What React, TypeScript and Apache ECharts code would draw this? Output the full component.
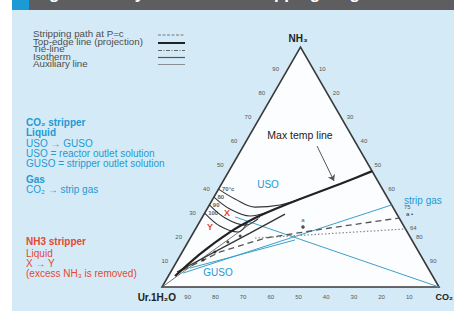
import React, { useEffect, useRef } from "react";
import * as echarts from "echarts";

// ---- data (ternary compositions as [NH3 %, CO2 %]) ----
const tickValues = [10, 20, 30, 40, 50, 60, 70, 80, 90];
const rightTickValues = [10, 20, 30, 40, 50, 60, 80, 90];
const triangleVertices = [[0, 0], [0, 100], [100, 0]];
const ridgeLine = [[4.6, 2.4], [13.75, 6.8], [22.9, 13.1], [28.75, 19.2], [32.5, 24.6], [36.7, 31.5], [42.9, 42.8], [48.3, 51.7]];
const isotherm70 = [[40.8, 0], [36.7, 8.0], [33.3, 16.9], [34.2, 25.5], [36.7, 31.5]];
const isotherm80 = [[37.5, 0], [32.5, 8.3], [29.6, 17.0], [31.25, 22.6]];
const isotherm90 = [[34.2, 0], [28.75, 8.4], [25.8, 17.1], [28.3, 20.5]];
const isotherm100 = [[30.8, 0], [25.4, 8.2], [22.9, 16.0], [27.3, 17.4]];
const isothermLabels = ["70°c", "80", "90", "100"];
const lowerBoundary = [[6.25, 2.3], [22.5, 20.5], [30.4, 29.2]];
const strippingPath = [[7.1, 4.0], [14.6, 13.6], [20.4, 27.0], [24.6, 48.3], [28.75, 71.2]];
const nh3Path = [[20.4, 23.4], [21.25, 35.6], [24.2, 75.8]];
const gusoToStripGas = [[5.8, 4.7], [34.2, 65.8]];
const usoToCo2 = [[29.2, 11.8], [0, 100]];
const gusoTie = [[7.9, 6.2], [19.6, 38.2]];
const auxFromVertex = [[0, 0], [29.2, 20.8]];
const strippingMarks = [[11.25, 9.2], [14.6, 11.8], [18.75, 14.4], [21.25, 17.6]];
const pointA = [[25, 38.4]];
const maxTempArrow = [[58.75, 26.6], [44.2, 40.0]];

const FONT = "'Liberation Sans', Arial, sans-serif";
const BLUE = "#2399d2";
const RED = "#e5482f";
const S3 = Math.sqrt(3) / 2;
const toXY = (p: number[]) => [p[1] + p[0] / 2, p[0] * S3];

function lineSeries(data: number[][], lineStyle: any, extra: any = {}) {
  return {
    type: "line",
    data: data.map(toXY),
    symbol: "none",
    silent: true,
    lineStyle,
    z: 4,
    ...extra,
  };
}

function edgeLabels(kind: string, values: number[]) {
  return {
    type: "custom",
    coordinateSystem: "cartesian2d",
    silent: true,
    z: 6,
    data: values.map((v) => [v, 0]),
    renderItem: (params: any, api: any) => {
      const v = api.value(0);
      let comp: number[];
      let dx = 0;
      let dy = 0;
      if (kind === "left") { comp = [v, 0]; dx = -11; dy = -2; }
      else if (kind === "right") { comp = [100 - v, v]; dx = 8; dy = -2; }
      else { comp = [0, 100 - v]; dx = -2; dy = 10; }
      const p = api.coord(toXY(comp));
      return {
        type: "text",
        x: p[0] + dx,
        y: p[1] + dy,
        style: { text: String(v), fontSize: 6, fill: "#555", align: "center", verticalAlign: "middle", fontFamily: FONT },
      };
    },
  };
}

function txt(text: string, x: number, y: number, o: any = {}, extra: any = {}) {
  return {
    type: "text",
    x,
    y,
    silent: true,
    z: 20,
    ...extra,
    style: {
      text,
      fontSize: 10,
      fill: "#333",
      fontFamily: FONT,
      verticalAlign: "middle",
      align: "left",
      ...o,
    },
  };
}

function legText(text: string, y: number) {
  return txt(text, 33, y, { fontSize: 7.5, lineHeight: 7, fill: "#4d4d4d" }, { scaleX: 1.3, scaleY: 1.12 });
}

function legLine(y: number, style: any) {
  return { type: "line", silent: true, z: 20, shape: { x1: 158, y1: y, x2: 185, y2: y }, style };
}

const isotherms = [isotherm70, isotherm80, isotherm90, isotherm100];

const option: any = {
  animation: false,
  grid: { left: 162, top: 47, width: 277, height: 240 },
  xAxis: { type: "value", min: 0, max: 100, show: false },
  yAxis: { type: "value", min: 0, max: 86.643, show: false },
  graphic: [
    { type: "rect", silent: true, z: -10, shape: { x: 12, y: 10, width: 442, height: 301 }, style: { fill: "#d4ebf7" } },
    { type: "rect", silent: true, z: -9, shape: { x: 12, y: 0, width: 442, height: 10 }, style: { fill: "#5e5e60" } },
    { type: "rect", silent: true, z: -8, shape: { x: 12, y: 0, width: 17, height: 10 }, style: { fill: "#1b9ad6" } },
    txt("Fig. 1 Ternary CO₂ vs NH₃ stripping diagram", 34, -7, { fill: "#fff", fontSize: 17, fontWeight: "bold" }),
    // legend
    legText("Stripping path at P=c", 34.5),
    legText("Top-edge line (projection)", 42),
    legText("Tie-line", 49.5),
    legText("Isotherm", 57),
    legText("Auxiliary line", 64.5),
    legLine(35, { stroke: "#777", lineWidth: 1, lineDash: [3, 1.5] }),
    legLine(43, { stroke: "#222", lineWidth: 2 }),
    legLine(50.5, { stroke: "#666", lineWidth: 1, lineDash: [4, 1.5, 1, 1.5] }),
    legLine(57.5, { stroke: "#555", lineWidth: 1.2 }),
    legLine(64.5, { stroke: "#777", lineWidth: 0.8 }),
    // CO2 stripper
    txt("CO₂ stripper", 26, 122, { fill: BLUE, fontWeight: "bold" }),
    txt("Liquid", 26, 132, { fill: BLUE, fontWeight: "bold" }),
    txt("USO → GUSO", 26, 143, { fill: BLUE }),
    txt("USO = reactor outlet solution", 26, 153, { fill: BLUE }),
    txt("GUSO = stripper outlet solution", 26, 163, { fill: BLUE }),
    txt("Gas", 26, 179, { fill: BLUE, fontWeight: "bold" }),
    txt("CO₂ → strip gas", 26, 189, { fill: BLUE }),
    // NH3 stripper
    txt("NH3 stripper", 26, 241, { fill: RED, fontWeight: "bold" }),
    txt("Liquid", 26, 253, { fill: RED }),
    txt("X → Y", 26, 263, { fill: RED }),
    txt("(excess NH₃ is removed)", 26, 273, { fill: RED }),
    // chart annotations
    txt("NH₃", 298, 38, { align: "center", fontWeight: "bold", fill: "#222" }),
    txt("Ur.1H₂O", 176, 297, { align: "right", fontWeight: "bold", fill: "#222" }),
    txt("CO₂", 453, 297, { align: "right", fontWeight: "bold", fill: "#222", fontSize: 9 }),
    txt("Max temp line", 300, 135, { align: "center", fontSize: 10.5, fill: "#222" }),
    txt("USO", 268, 184, { align: "center", fill: BLUE }),
    txt("GUSO", 218, 272, { align: "center", fill: BLUE }),
    txt("strip gas", 404, 200, { fill: BLUE }),
    txt("X", 227, 213, { align: "center", fill: RED, fontSize: 9, fontWeight: "bold" }),
    txt("Y", 210, 227, { align: "center", fill: RED, fontSize: 9, fontWeight: "bold" }),
    txt("75", 404, 207, { fontSize: 6, fill: "#555" }),
    txt("a •", 406, 214, { fontSize: 6, fill: "#333" }),
    txt("64", 410, 228, { fontSize: 6, fill: "#555" }),
  ],
  series: [
    {
      type: "custom",
      coordinateSystem: "cartesian2d",
      silent: true,
      z: 1,
      data: [[0, 0]],
      renderItem: (params: any, api: any) => {
        const pts = triangleVertices.map((p) => api.coord(toXY(p)));
        return {
          type: "polygon",
          shape: { points: pts },
          style: { fill: "#fcfdfe", stroke: "#3a3a3a", lineWidth: 1.6 },
        };
      },
    },
    edgeLabels("left", tickValues),
    edgeLabels("right", rightTickValues),
    edgeLabels("bottom", tickValues),
    lineSeries(auxFromVertex, { color: "#555", width: 0.8 }),
    lineSeries(gusoToStripGas, { color: "#3c9fc9", width: 1 }),
    lineSeries(usoToCo2, { color: "#3c9fc9", width: 1 }),
    lineSeries(gusoTie, { color: "#3c9fc9", width: 1 }),
    lineSeries(nh3Path, { color: "#8a8a8a", width: 1.2, type: [1.5, 2] }),
    lineSeries(strippingPath, { color: "#555", width: 1.3, type: [6, 4] }),
    lineSeries(lowerBoundary, { color: "#333", width: 1.4 }),
    ...isotherms.map((d) => lineSeries(d, { color: "#333", width: 1.1 }, { smooth: 0.35 })),
    lineSeries(ridgeLine, { color: "#222", width: 2.2 }, { smooth: 0.2, z: 5 }),
    {
      type: "scatter",
      silent: true,
      z: 7,
      symbolSize: 5,
      data: isotherms.map((d, i) => ({ value: toXY(d[0]), name: isothermLabels[i] })),
      itemStyle: { color: "rgba(0,0,0,0)" },
      label: {
        show: true,
        formatter: (p: any) => p.name,
        position: "right",
        distance: 1,
        fontSize: 6,
        color: "#333",
        fontFamily: FONT,
        fontWeight: "bold",
      },
    },
    {
      type: "scatter",
      silent: true,
      z: 7,
      symbol: "circle",
      symbolSize: 3,
      itemStyle: { color: "#222" },
      data: strippingMarks.map(toXY),
    },
    {
      type: "scatter",
      silent: true,
      z: 7,
      symbol: "circle",
      symbolSize: 3.5,
      itemStyle: { color: "#222" },
      data: pointA.map(toXY),
      label: { show: true, formatter: "a", position: "top", distance: 2, fontSize: 6, color: "#222", fontFamily: FONT },
    },
    {
      type: "lines",
      coordinateSystem: "cartesian2d",
      silent: true,
      z: 8,
      symbol: ["none", "arrow"],
      symbolSize: 6,
      lineStyle: { color: "#555", width: 1, opacity: 1 },
      data: [{ coords: maxTempArrow.map(toXY) }],
    },
  ],
};

export default function App() {
  const ref = useRef<HTMLDivElement>(null);
  useEffect(() => {
    const chart = echarts.init(ref.current as HTMLDivElement, null, { renderer: "svg", width: 454, height: 311 });
    chart.setOption(option);
    return () => chart.dispose();
  }, []);
  return (
    <div
      ref={ref}
      style={{ position: "fixed", left: 0, top: 0, width: 454, height: 311, background: "#fff" }}
    />
  );
}
